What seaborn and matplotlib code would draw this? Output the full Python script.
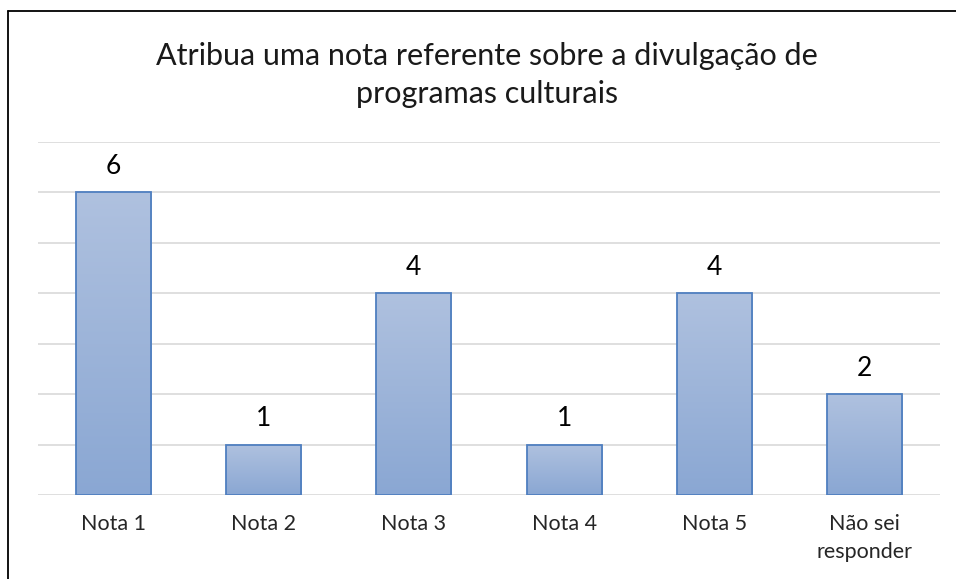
import numpy as np
import pandas as pd
import matplotlib
matplotlib.use("Agg")
import matplotlib.pyplot as plt
from matplotlib.lines import Line2D
import seaborn as sns

# data
categorias = ["Nota 1", "Nota 2", "Nota 3", "Nota 4", "Nota 5", "Não sei\nresponder"]
respostas = [6, 1, 4, 1, 4, 2]

df = pd.DataFrame({"categoria": categorias, "respostas": respostas})

sns.set_style("white")
plt.rcParams['font.family'] = ['Lato', 'DejaVu Sans']

fig = plt.figure(figsize=(9.56, 5.79), dpi=100)
ax = fig.add_axes([38 / 956, 1 - 495 / 579, 902 / 956, (495 - 142) / 579])

sns.barplot(data=df, x="categoria", y="respostas", ax=ax, width=0.5,
            color="#9db3da", edgecolor="#4f7fc0", linewidth=1.3, zorder=3)

ax.set_ylim(0, 7)
ax.set_yticks(range(0, 8))
ax.yaxis.grid(True, color="#d9d9d9", linewidth=1.2, zorder=0)
ax.set_yticklabels([])
ax.tick_params(axis="y", length=0)
ax.tick_params(axis="x", length=0, labelsize=15.5, pad=14)
for lbl in ax.get_xticklabels():
    lbl.set_linespacing(1.45)
ax.set_xlabel("")
ax.set_ylabel("")
for s in ax.spines.values():
    s.set_visible(False)

# vertical gradient inside each bar
grad = np.linspace(0, 1, 256).reshape(-1, 1)
cmap = matplotlib.colors.LinearSegmentedColormap.from_list("g", ["#8aa7d3", "#afc1df"])
for p in ax.patches:
    x0, y0 = p.get_x(), p.get_y()
    w, h = p.get_width(), p.get_height()
    im = ax.imshow(grad, cmap=cmap, aspect="auto", origin="lower",
                   extent=[x0, x0 + w, y0, y0 + h], zorder=3.5)
    im.set_clip_path(p)
    p.set_facecolor("none")
    p.set_zorder(4)

ax.set_xlim(-0.5, 5.5)

for i, v in enumerate(respostas):
    ax.text(i, v + 0.27, str(v), ha="center", va="bottom", fontsize=19, color="#000000")

fig.text(487 / 956, 1 - 75 / 579, "Atribua uma nota referente sobre a divulgação de\nprogramas culturais",
         ha="center", va="center", fontsize=22, linespacing=1.45, color="#1a1a1a")

# outer frame (only top and left visible)
fig.add_artist(Line2D([8 / 956, 8 / 956], [0, 1 - 11 / 579], color="black", linewidth=1.3))
fig.add_artist(Line2D([8 / 956, 1], [1 - 11 / 579, 1 - 11 / 579], color="black", linewidth=1.3))

fig.savefig("out.png", dpi=100)
